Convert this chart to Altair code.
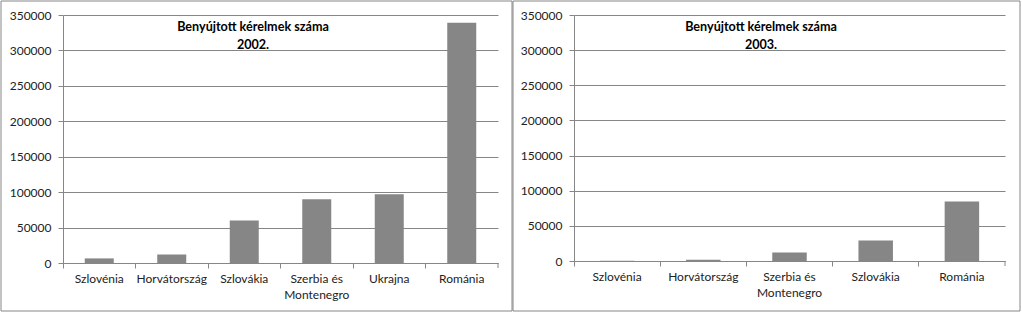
import altair as alt
import pandas as pd

cats2002 = ["Szlovénia", "Horvátország", "Szlovákia", "Szerbia és Montenegro", "Ukrajna", "Románia"]
vals2002 = [6500, 12000, 60000, 90000, 97000, 339000]
cats2003 = ["Szlovénia", "Horvátország", "Szerbia és Montenegro", "Szlovákia", "Románia"]
vals2003 = [300, 1800, 12000, 29000, 84500]
yticks = [0, 50000, 100000, 150000, 200000, 250000, 300000, 350000]
title_line1 = "Benyújtott kérelmek száma"

GRAY = "#868686"
FONT = "Lato"


def panel(cats, vals, year, w, h, lext, rext, tx):
    df = pd.DataFrame({"k": cats, "v": vals})
    base = alt.Chart(df)
    xscale = alt.Scale(domain=cats, paddingInner=0, paddingOuter=0)
    yscale = alt.Scale(domain=[0, 350000], nice=False)
    bars = base.mark_bar(color=GRAY, width=alt.RelativeBandSize(0.4)).encode(
        x=alt.X("k:N", scale=xscale, sort=cats,
                axis=alt.Axis(orient="bottom", labels=False, bandPosition=0, ticks=True,
                              tickSize=5, domain=True, title=None, grid=False,
                              tickColor=GRAY, domainColor=GRAY)),
        y=alt.Y("v:Q", scale=yscale,
                axis=alt.Axis(values=yticks, title=None, grid=True, gridColor=GRAY,
                              domainColor=GRAY, tickColor=GRAY, tickSize=5,
                              labelPadding=7, format="d")),
    )
    labels = base.mark_tick(opacity=0).encode(
        x=alt.X("k:N", scale=xscale, sort=cats,
                axis=alt.Axis(orient="bottom", ticks=False, domain=False, title=None,
                              grid=False, labelPadding=10, labelAngle=0,
                              labelLineHeight=16,
                              labelExpr="datum.label == 'Szerbia és Montenegro' ? ['Szerbia és', 'Montenegro'] : datum.label")),
    )
    deco = alt.Chart(pd.DataFrame({"a": [0]}))
    endtick = deco.mark_rule(color=GRAY).encode(
        x=alt.value(w), y=alt.value(h), y2=alt.value(h + 5))
    border = deco.mark_rect(filled=False, stroke=GRAY, strokeWidth=1).encode(
        x=alt.value(-lext), x2=alt.value(w + rext), y=alt.value(-14), y2=alt.value(296))
    title = deco.mark_text(text=[title_line1, year], font=FONT, fontSize=12.6,
                           fontWeight="bold", lineHeight=18, align="center",
                           baseline="alphabetic", color="#000").encode(
        x=alt.value(tx), y=alt.value(16))
    return alt.layer(border, bars, labels, endtick, title).resolve_axis(
        x="independent").properties(width=w, height=h)


left = panel(cats2002, vals2002, "2002.", 435, 248, 62, 449 - 435, 190)
right = panel(cats2003, vals2003, "2003.", 431, 246, 61, 446 - 431, 187)

chart = alt.hconcat(left, right, spacing=-1).properties(
    padding=0, background="white"
).configure_view(stroke=None).configure_axis(
    labelFont=FONT, labelFontSize=12, labelColor="#222"
)

chart.save("out.html", embed_options={"renderer": "svg", "actions": False})
